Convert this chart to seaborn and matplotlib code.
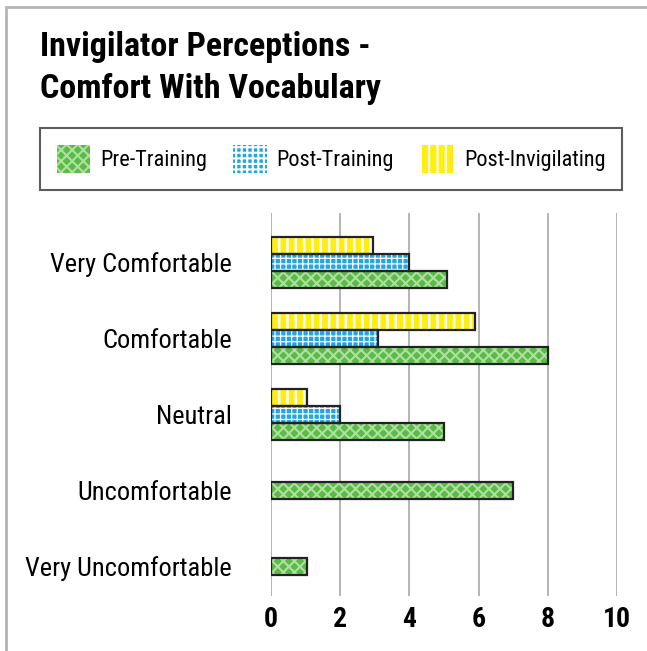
import matplotlib
matplotlib.use("Agg")
import matplotlib.pyplot as plt
from matplotlib import font_manager
from matplotlib.patches import Patch, Rectangle
import pandas as pd
import seaborn as sns

# Data
levels = ["Very Comfortable", "Comfortable", "Neutral", "Uncomfortable", "Very Uncomfortable"]
pre_training = [5.1, 8, 5, 7, 1.05]
post_training = [4, 3.1, 2, None, None]
post_invigilating = [2.95, 5.9, 1.05, None, None]
x_ticks = [0, 2, 4, 6, 8, 10]

series_names = ["Pre-Training", "Post-Training", "Post-Invigilating"]
series_values = [pre_training, post_training, post_invigilating]

# style per series: face colour, hatch, hatch colour, hatch width
styles = {
    "Pre-Training": ("#5cbb48", "xxx", "#aee0a0", 1.5),
    "Post-Training": ("#22a6e2", "+++", "#ffffff", 0.9),
    "Post-Invigilating": ("#ffee10", "||", "#ffffff", 1.8),
}

sns.set_theme(style="white")
installed = {f.name for f in font_manager.fontManager.ttflist}
narrow = next((f for f in ["Roboto Condensed", "Liberation Sans Narrow", "Liberation Sans"] if f in installed), "DejaVu Sans")
plt.rcParams["font.family"] = [narrow, "DejaVu Sans"]
plt.rcParams["hatch.linewidth"] = 1.5
plt.rcParams["text.color"] = "black"
plt.rcParams["xtick.color"] = "black"
plt.rcParams["ytick.color"] = "black"

rows = []
for name, vals in zip(series_names, series_values):
    for lvl, v in zip(levels, vals):
        if v is not None:
            rows.append({"level": lvl, "series": name, "count": v})
df = pd.DataFrame(rows)

fig = plt.figure(figsize=(6.47, 6.51), dpi=100)
ax = fig.add_axes([271 / 647, 1 - 596 / 651, 346 / 647, 383 / 651])

# top bar in each group is Post-Invigilating, bottom is Pre-Training
hue_order = series_names[::-1]
sns.barplot(data=df, y="level", x="count", hue="series", order=levels,
            hue_order=hue_order, orient="h", width=0.67, dodge=True,
            palette={k: v[0] for k, v in styles.items()},
            linewidth=0, saturation=1, legend=False, ax=ax)

# categories with only one series get their bar centred on the label
counts = df.groupby("level")["series"].count()
for bar in ax.patches:
    idx = int(round(bar.get_y() + bar.get_height() / 2))
    if counts[levels[idx]] == 1:
        bar.set_y(idx - bar.get_height() / 2)


def apply_hatch(p, name):
    face, hatch, hcol, hlw = styles[name]
    p.set_hatch(hatch)
    p.set_edgecolor(hcol)
    p.set_linewidth(0)
    if hasattr(p, "set_hatch_linewidth"):
        p.set_hatch_linewidth(hlw)


# hatch takes the edge colour, so outline each bar separately
for cont, name in zip(ax.containers, hue_order):
    for bar in cont:
        apply_hatch(bar, name)
        ax.add_patch(Rectangle(bar.get_xy(), bar.get_width(), bar.get_height(),
                               fill=False, edgecolor="#222222", linewidth=1.6, zorder=bar.get_zorder() + 0.1))

ax.set_xlim(0, 10)
ax.set_ylim(4.39, -0.645)
ax.set_xticks(x_ticks)
ax.set_xticklabels([str(t) for t in x_ticks], fontsize=20, fontweight="bold")
ax.tick_params(axis="y", labelsize=19, pad=28, length=0)
ax.tick_params(axis="x", pad=7, length=0)
ax.set_xlabel("")
ax.set_ylabel("")
ax.grid(axis="x", color="#a8a8a8", linewidth=1.2)
ax.grid(axis="y", visible=False)
ax.set_axisbelow(True)
for sp in ax.spines.values():
    sp.set_visible(False)

fig.text(40 / 647, 1 - 31 / 651, "Invigilator Perceptions -\nComfort With Vocabulary",
         fontsize=24.5, fontweight="bold", va="top", ha="left", linespacing=1.4)

handles = []
for name in series_names:
    p = Patch(facecolor=styles[name][0], label=name)
    apply_hatch(p, name)
    handles.append(p)
leg = fig.legend(handles=handles, ncol=3, loc="lower left", mode="expand",
                 bbox_to_anchor=(40 / 647, 1 - 190 / 651, 582 / 647, 60 / 651),
                 fontsize=16, frameon=True, fancybox=False, edgecolor="#333333",
                 handlelength=1.5, handleheight=1.6, handletextpad=0.45,
                 borderpad=0.75, borderaxespad=0)
leg.get_frame().set_linewidth(1.5)

# light grey frame along the top and left edges
fig.add_artist(Rectangle((5.5 / 647, -0.1), 1.2, 1 - 6.5 / 651 + 0.1, transform=fig.transFigure,
                         fill=False, edgecolor="#b4b4b4", linewidth=2))

fig.savefig("out.png", dpi=100)
